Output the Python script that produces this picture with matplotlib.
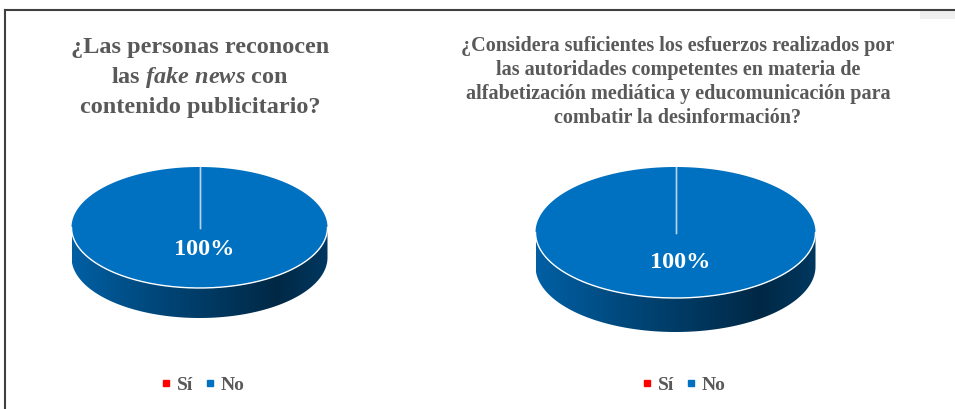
import numpy as np
import matplotlib.pyplot as plt
from matplotlib.patches import Polygon, Rectangle
from matplotlib.lines import Line2D
from matplotlib import colors as mcolors

plt.rcParams['font.family'] = ['Liberation Serif', 'DejaVu Serif']
plt.rcParams['mathtext.fontset'] = 'custom'
plt.rcParams['mathtext.rm'] = 'Liberation Serif:bold'
plt.rcParams['mathtext.it'] = 'Liberation Serif:italic:bold'

# datos
categorias = ['Sí', 'No']
colores = ['#FF0000', '#0070C0']
valores_1 = [0, 100]
valores_2 = [0, 100]
titulo_1 = ['¿Las personas reconocen', r'las $\mathit{fake\ news}$ con', 'contenido publicitario?']
titulo_2 = ['¿Considera suficientes los esfuerzos realizados por',
            'las autoridades competentes en materia de',
            'alfabetización mediática y educomunicación para',
            'combatir la desinformación?']

GRIS = '#595959'


def sombra(x_frac):
    # factor de oscurecimiento del lateral, de izquierda a derecha
    xs = [0.0, 0.35, 0.8, 1.0]
    fs = [0.85, 0.62, 0.36, 0.5]
    return np.interp(x_frac, xs, fs)


def pie3d(ax, cx, cy, rx, ry, prof, valores, cols, kdist):
    total = float(sum(valores))
    # angulos de cada porcion (sentido horario desde arriba)
    inicio = 90.0
    tramos = []
    for v, c in zip(valores, cols):
        fin = inicio - 360.0 * v / total
        tramos.append((inicio, fin, c, v))
        inicio = fin

    # lateral (mitad frontal, angulos 180..360)
    xg = np.linspace(0, 1, 400)
    for a0, a1, c, v in tramos:
        if v == 0:
            continue
        # parte de la porcion que cae en la mitad frontal
        lo, hi = a1 % 360, a1 % 360 + (a0 - a1)
        segs = []
        for off in (0, 360, -360):
            s0, s1 = max(lo + off, 180), min(hi + off, 360)
            if s1 > s0:
                segs.append((s0, s1))
        base = np.array(mcolors.to_rgb(c))
        img = (sombra(xg)[:, None] * base[None, :])[None, :, :]
        for s0, s1 in segs:
            tt = np.radians(np.linspace(s0, s1, 200))
            top = [(cx + rx * np.cos(t), cy - ry * np.sin(t)) for t in tt]
            bot = [(x, y + prof) for x, y in top[::-1]]
            poly = Polygon(top + bot, closed=True, facecolor='none', edgecolor='none')
            ax.add_patch(poly)
            im = ax.imshow(img, extent=(cx - rx, cx + rx, cy + ry + prof, cy - ry),
                           aspect='auto', interpolation='bilinear', zorder=1)
            im.set_clip_path(poly)

    # tapa
    for a0, a1, c, v in tramos:
        if v == 0:
            continue
        tt = np.radians(np.linspace(a0, a1, 300))
        pts = [(cx + rx * np.cos(t), cy - ry * np.sin(t)) for t in tt]
        if v < total:
            pts = [(cx, cy)] + pts
        ax.add_patch(Polygon(pts, closed=True, facecolor=c, edgecolor='none', zorder=2))
    # borde blanco frontal
    tt = np.radians(np.linspace(180, 360, 200))
    ax.plot(cx + rx * np.cos(tt), cy - ry * np.sin(tt), color='white', lw=1.0, zorder=3)
    # lineas radiales
    for a0, a1, c, v in tramos:
        ax.plot([cx, cx + rx * np.cos(np.radians(a0))],
                [cy, cy - ry * np.sin(np.radians(a0))], color='#b8d2ee', lw=1.0, zorder=3)
    # etiquetas
    for a0, a1, c, v in tramos:
        if v == 0:
            continue
        m = np.radians((a0 + a1) / 2)
        ax.text(cx + kdist * rx * np.cos(m) + 5, cy - kdist * ry * np.sin(m),
                '%d%%' % round(100 * v / total), color='white', fontsize=17.5,
                fontweight='bold', ha='center', va='center', zorder=4)


fig = plt.figure(figsize=(9.55, 4.09), dpi=100)
ax = fig.add_axes([0, 0, 1, 1])
ax.set_xlim(0, 955)
ax.set_ylim(409, 0)
ax.axis('off')

# marco
ax.plot([5, 955], [10, 10], color='#404040', lw=1.5)
ax.plot([5, 5], [10, 409], color='#404040', lw=1.5)
ax.add_patch(Rectangle((920, 11), 35, 8, facecolor='#efefef', edgecolor='none'))

pie3d(ax, 199.5, 227.5, 128, 60.5, 30, valores_1, colores, 0.37)
pie3d(ax, 675.5, 232.5, 140, 65.5, 34, valores_2, colores, 0.46)

for i, linea in enumerate(titulo_1):
    ax.text(200, 48 + 30 * i, linea, fontsize=17.5, fontweight='bold', color=GRIS,
            ha='center', va='center')
for i, linea in enumerate(titulo_2):
    ax.text(678, 46 + 24 * i, linea, fontsize=14.5, fontweight='bold', color=GRIS,
            ha='center', va='center')

handles = [Line2D([], [], marker='s', ls='none', color=c, markersize=5) for c in colores]
for xc in (203, 684):
    fig.legend(handles, categorias, loc='center', bbox_to_anchor=(xc / 955, 1 - 385 / 409),
               ncol=2, frameon=False, handlelength=0.5, handletextpad=0.3,
               columnspacing=0.6, prop={'size': 14, 'weight': 'bold'}, labelcolor=GRIS)

fig.savefig('out.png', dpi=100)
